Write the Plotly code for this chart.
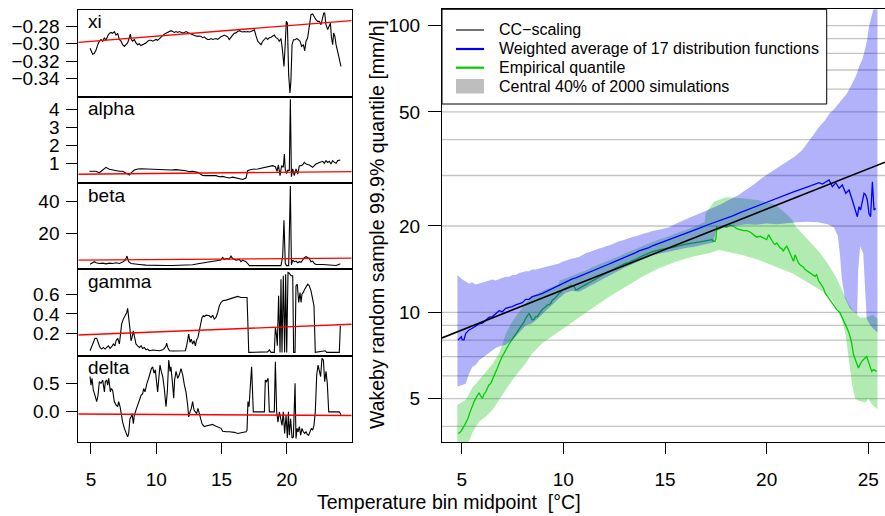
import plotly.graph_objects as go

FONT = "Liberation Sans, Arial, Helvetica, sans-serif"
W, H = 885, 516

# ---------------- left panels: Wakeby parameters vs temperature ----------------
xi_pts = [(4.93,-0.305),(5.00,-0.307),(5.13,-0.312),(5.26,-0.311),(5.39,-0.307),(5.52,-0.301),(5.64,-0.297),(5.77,-0.295),
    (5.90,-0.297),(6.03,-0.293),(6.15,-0.296),(6.28,-0.291),(6.41,-0.288),(6.54,-0.287),(6.66,-0.288),(6.79,-0.286),
    (6.92,-0.290),(7.05,-0.288),(7.17,-0.295),(7.30,-0.297),(7.43,-0.301),(7.56,-0.303),(7.69,-0.301),(7.81,-0.299),
    (7.94,-0.293),(8.02,-0.289),(8.09,-0.295),(8.20,-0.297),(8.32,-0.295),(8.45,-0.299),(8.58,-0.301),(8.70,-0.300),
    (8.83,-0.302),(8.96,-0.301),(9.09,-0.300),(9.22,-0.299),(9.35,-0.297),(9.47,-0.296),(9.60,-0.296),(9.73,-0.297),
    (9.86,-0.296),(9.98,-0.295),(10.11,-0.296),(10.24,-0.294),(10.37,-0.293),(10.50,-0.291),(10.62,-0.289),(10.75,-0.288),
    (10.88,-0.287),(11.01,-0.286),(11.14,-0.285),(11.26,-0.286),(11.39,-0.287),(11.52,-0.286),(11.65,-0.287),(11.77,-0.286),
    (11.90,-0.287),(12.03,-0.2875),(12.16,-0.287),(12.29,-0.286),(12.42,-0.287),(12.54,-0.288),(12.67,-0.289),(12.80,-0.290),
    (12.93,-0.2905),(13.05,-0.291),(13.18,-0.2915),(13.31,-0.291),(13.43,-0.2915),(13.56,-0.293),(13.69,-0.292),(13.82,-0.294),
    (13.94,-0.295),(14.07,-0.295),(14.20,-0.294),(14.33,-0.295),(14.45,-0.2945),(14.58,-0.294),(14.71,-0.295),(14.84,-0.293),
    (14.96,-0.292),(15.09,-0.291),(15.22,-0.290),(15.35,-0.291),(15.47,-0.292),(15.60,-0.295),(15.73,-0.292),(15.86,-0.290),
    (15.98,-0.288),(16.11,-0.2875),(16.24,-0.286),(16.37,-0.285),(16.50,-0.286),(16.63,-0.2865),(16.75,-0.286),(16.88,-0.2865),
    (17.01,-0.286),(17.14,-0.2865),(17.26,-0.286),(17.39,-0.285),(17.52,-0.284),(17.65,-0.291),(17.78,-0.297),(17.90,-0.299),
    (18.03,-0.301),(18.16,-0.297),(18.29,-0.295),(18.41,-0.293),(18.54,-0.295),(18.67,-0.293),(18.80,-0.2925),(18.92,-0.291),
    (19.05,-0.290),(19.18,-0.293),(19.31,-0.294),(19.43,-0.297),(19.56,-0.294),(19.66,-0.305),(19.79,-0.3258),(19.87,-0.305),
    (19.97,-0.2743),(20.05,-0.276),(20.15,-0.3353),(20.25,-0.3563),(20.32,-0.343),(20.41,-0.301),(20.52,-0.2953),(20.64,-0.2953),
    (20.77,-0.294),(20.90,-0.2953),(21.02,-0.297),(21.15,-0.303),(21.28,-0.301),(21.38,-0.308),(21.48,-0.297),(21.60,-0.2934),
    (21.73,-0.2781),(21.86,-0.2666),(21.99,-0.2659),(22.11,-0.270),(22.24,-0.2724),(22.37,-0.2743),(22.50,-0.2743),(22.63,-0.2781),
    (22.76,-0.2666),(22.84,-0.2647),(22.91,-0.2647),(23.01,-0.2781),(23.14,-0.2838),(23.27,-0.280),(23.35,-0.2762),(23.42,-0.2915),
    (23.52,-0.3010),(23.60,-0.2876),(23.69,-0.2915),(23.78,-0.3010),(23.91,-0.3124),(23.99,-0.3144),(24.07,-0.3201),(24.16,-0.3258)]

alpha_pts = [(4.88,0.58),(5.13,0.56),(5.39,0.58),(5.64,0.50),(5.90,0.65),(6.15,0.80),(6.41,0.69),(6.66,0.65),(6.92,0.61),
    (7.17,0.58),(7.43,0.58),(7.69,0.50),(7.81,0.43),(7.94,0.37),(8.07,0.50),(8.32,0.65),(8.58,0.71),(8.83,0.72),(9.22,0.71),
    (9.60,0.69),(9.98,0.65),(10.37,0.67),(10.75,0.65),(11.13,0.65),(11.52,0.67),(11.90,0.65),(12.28,0.61),(12.54,0.56),
    (12.79,0.58),(13.18,0.52),(13.43,0.43),(13.56,0.35),(13.82,0.34),(14.07,0.35),(14.33,0.32),(14.58,0.34),(14.84,0.28),
    (15.09,0.30),(15.35,0.25),(15.60,0.21),(15.86,0.26),(16.11,0.21),(16.37,0.17),(16.63,0.13),(16.88,0.21),(17.01,0.61),
    (17.14,0.65),(17.39,0.69),(17.78,0.71),(18.16,0.76),(18.54,0.80),(18.92,0.89),(19.13,0.83),(19.26,0.58),(19.36,0.93),
    (19.49,0.34),(19.61,0.89),(19.74,0.80),(19.82,1.53),(19.89,0.67),(19.99,0.45),(20.07,0.63),(20.20,0.63),(20.28,4.55),
    (20.36,0.28),(20.46,0.71),(20.58,0.34),(20.71,0.71),(20.84,0.43),(20.97,0.89),(21.10,0.89),(21.22,0.94),(21.35,1.07),
    (21.48,0.98),(21.73,0.93),(21.99,0.80),(22.12,0.89),(22.24,0.98),(22.50,1.07),(22.76,1.13),(22.88,1.02),(23.01,1.17),
    (23.14,1.07),(23.27,1.13),(23.39,0.98),(23.52,1.17),(23.65,1.07),(23.78,1.02),(23.91,1.17),(24.03,1.20),(24.11,1.20)]

beta_pts = [(4.93,1.0),(5.13,1.9),(5.26,2.5),(5.39,1.9),(5.64,1.4),(5.90,1.65),(6.15,1.2),(6.41,1.65),(6.66,1.4),(6.92,1.9),
    (7.17,1.4),(7.43,2.3),(7.63,3.5),(7.76,6.0),(7.89,2.5),(8.07,1.4),(8.32,1.0),(8.71,0.8),(9.22,0.4),(9.73,0.2),(10.24,0.2),
    (10.75,0.2),(11.26,0.2),(11.77,0.2),(12.28,0.4),(12.79,0.6),(13.31,1.4),(13.69,1.9),(14.07,2.3),(14.58,2.9),(14.96,3.5),
    (15.09,5.2),(15.22,3.9),(15.35,4.5),(15.60,4.1),(15.73,6.0),(15.86,4.5),(16.11,3.5),(16.37,3.9),(16.50,2.5),(16.63,3.5),
    (16.75,2.9),(16.88,2.5),(17.01,1.4),(17.14,0.1),(18.16,0.1),(19.18,0.1),(19.56,0.1),(19.69,5.6),(19.79,28.2),(19.89,1.4),
    (19.99,0.1),(20.15,0.1),(20.28,49.3),(20.36,0.6),(20.46,3.5),(20.58,2.5),(20.71,2.9),(20.84,1.9),(20.97,2.5),(21.10,2.1),
    (21.22,3.5),(21.35,5.0),(21.48,5.6),(21.61,5.0),(21.73,4.5),(21.86,2.5),(21.99,2.9),(22.12,1.4),(22.24,0.8),(22.76,0.8),
    (23.27,0.4),(23.78,0.2),(24.03,1.0),(24.11,1.2)]

gamma_pts = [(4.93,0.022),(5.08,0.073),(5.18,0.125),(5.31,0.149),(5.44,0.149),(5.57,0.091),(5.69,0.056),(5.82,0.039),
    (5.95,0.056),(6.08,0.039),(6.20,0.056),(6.33,0.073),(6.46,0.046),(6.59,0.063),(6.72,0.091),(6.84,0.073),(6.92,0.125),
    (7.05,0.149),(7.18,0.091),(7.25,0.176),(7.35,0.296),(7.48,0.347),(7.61,0.381),(7.74,0.415),(7.81,0.457),(7.89,0.381),
    (7.99,0.244),(8.07,0.125),(8.15,0.159),(8.25,0.227),(8.35,0.142),(8.45,0.091),(8.58,0.073),(8.71,0.056),(8.84,0.073),
    (8.96,0.046),(9.09,0.056),(9.22,0.032),(9.35,0.039),(9.47,0.022),(9.73,0.029),(9.98,0.022),(10.24,0.022),(10.50,0.032),
    (10.62,0.046),(10.75,0.073),(10.80,0.101),(10.88,0.056),(11.01,0.022),(11.26,0.019),(11.77,0.019),(12.23,0.022),
    (12.33,0.073),(12.41,0.159),(12.49,0.193),(12.59,0.108),(12.69,0.142),(12.79,0.091),(12.90,0.125),(13.00,0.073),
    (13.10,0.135),(13.20,0.159),(13.31,0.227),(13.41,0.296),(13.51,0.364),(13.61,0.381),(13.71,0.374),(13.82,0.388),
    (13.94,0.381),(14.07,0.381),(14.20,0.364),(14.33,0.388),(14.45,0.347),(14.58,0.364),(14.71,0.415),(14.84,0.484),
    (14.97,0.518),(15.09,0.535),(15.35,0.542),(15.60,0.552),(15.86,0.559),(16.11,0.569),(16.24,0.580),(16.50,0.569),
    (16.75,0.569),(16.96,0.569),(17.03,0.279),(17.09,0.005),(18.54,0.010),(18.67,0.030),(18.80,0.005),(19.05,0.005),
    (19.13,0.262),(19.21,0.193),(19.28,0.073),(19.38,0.586),(19.49,0.005),(19.56,0.757),(19.64,0.005),(19.74,0.792),
    (19.84,0.005),(19.92,0.809),(20.00,0.005),(20.10,0.826),(20.20,0.819),(20.33,0.792),(20.46,0.792),(20.53,0.005),
    (20.64,0.005),(20.71,0.689),(20.81,0.706),(20.92,0.518),(21.02,0.621),(21.10,0.518),(21.17,0.604),(21.27,0.621),
    (21.38,0.655),(21.48,0.672),(21.61,0.706),(21.73,0.689),(21.86,0.638),(21.99,0.552),(22.09,0.484),(22.19,0.005),
    (22.96,0.022),(23.06,0.005),(24.03,0.005),(24.11,0.279)]

delta_pts = [(4.93,0.62),(5.00,0.47),(5.08,0.59),(5.18,0.38),(5.31,0.29),(5.44,0.18),(5.54,0.29),(5.64,0.53),(5.77,0.50),
    (5.90,0.56),(6.03,0.35),(6.10,0.53),(6.20,0.56),(6.28,0.47),(6.36,0.59),(6.49,0.35),(6.56,0.41),(6.66,0.38),(6.79,0.18),
    (6.92,0.12),(7.05,0.09),(7.12,0.18),(7.23,0.09),(7.30,-0.03),(7.38,-0.09),(7.43,-0.18),(7.56,-0.29),(7.69,-0.38),
    (7.81,-0.44),(7.89,-0.38),(7.99,-0.12),(8.07,-0.09),(8.15,-0.03),(8.25,-0.21),(8.32,-0.06),(8.45,0.03),(8.58,0.12),
    (8.71,0.24),(8.84,0.29),(8.96,0.32),(9.04,0.41),(9.14,0.35),(9.22,0.47),(9.29,0.50),(9.42,0.59),(9.52,0.68),(9.63,0.76),
    (9.73,0.79),(9.83,0.68),(9.93,0.74),(10.04,0.53),(10.11,0.35),(10.19,0.56),(10.29,0.82),(10.39,0.71),(10.50,0.62),
    (10.62,0.41),(10.75,0.09),(10.85,0.35),(10.96,0.91),(11.06,0.71),(11.13,0.79),(11.26,0.47),(11.34,0.24),(11.41,0.56),
    (11.52,0.71),(11.65,0.59),(11.77,0.65),(11.90,0.76),(12.03,0.65),(12.16,0.47),(12.28,0.35),(12.41,0.12),(12.49,-0.09),
    (12.59,0.0),(12.69,0.06),(12.79,0.18),(12.90,0.03),(13.00,0.0),(13.10,-0.03),(13.20,0.06),(13.31,-0.03),(13.41,-0.12),
    (13.51,-0.21),(13.61,-0.24),(13.71,-0.26),(13.82,-0.25),(13.94,-0.24),(14.07,-0.24),(14.20,-0.22),(14.33,-0.22),
    (14.45,-0.24),(14.58,-0.25),(14.71,-0.26),(14.84,-0.28),(14.97,-0.29),(15.09,-0.34),(15.22,-0.35),(15.35,-0.35),
    (15.60,-0.35),(15.86,-0.35),(15.99,-0.36),(16.24,-0.38),(16.50,-0.37),(16.63,-0.36),(16.88,-0.35),(16.96,-0.32),
    (17.03,0.18),(17.11,0.09),(17.24,0.47),(17.31,0.79),(17.44,0.0),(18.29,0.0),(18.36,0.56),(18.46,0.53),(18.57,0.59),
    (18.67,0.0),(19.05,0.0),(19.13,0.88),(19.23,0.0),(19.33,-0.18),(19.44,0.0),(19.54,-0.12),(19.64,-0.24),(19.74,0.0),
    (19.84,-0.38),(19.95,-0.06),(20.05,-0.46),(20.13,0.0),(20.20,-0.41),(20.30,-0.12),(20.41,-0.46),(20.51,-0.44),
    (20.59,0.12),(20.64,0.50),(20.71,-0.47),(20.79,-0.29),(20.87,-0.35),(20.97,-0.26),(21.07,-0.41),(21.17,-0.29),
    (21.27,-0.35),(21.38,-0.38),(21.48,-0.35),(21.58,-0.40),(21.68,-0.41),(21.79,-0.35),(21.89,-0.29),(21.99,-0.32),
    (22.09,-0.24),(22.19,0.0),(22.30,0.65),(22.40,0.82),(22.50,0.74),(22.60,0.62),(22.70,0.94),(22.81,0.91),(22.91,0.53),
    (23.01,0.71),(23.11,0.50),(23.22,0.0),(24.03,0.0),(24.11,-0.03),(24.16,-0.05)]

# linear trends (red) at the panel edges
xi_fit = [(4.03,-0.2983),(24.98,-0.2735)]
alpha_fit = [(4.03,0.42),(24.98,0.56)]
beta_fit = [(4.03,3.5),(24.98,4.7)]
gamma_fit = [(4.03,0.184),(24.98,0.294)]
delta_fit = [(4.03,-0.038),(24.98,-0.064)]

panel_names = ["xi", "alpha", "beta", "gamma", "delta"]
panel_ranges = [(-0.3603,-0.2613), (-0.065,4.706), (-2.0,51.2), (-0.027,0.862), (-0.53,0.99)]
panel_ticks = [[-0.34,-0.32,-0.30,-0.28], [1,2,3,4], [20,40], [0.2,0.4,0.6], [0.0,0.5]]
panel_ticktext = [["\u22120.34","\u22120.32","\u22120.30","\u22120.28"], ["1","2","3","4"], ["20","40"],
                  ["0.2","0.4","0.6"], ["0.0","0.5"]]
left_xticks = [5, 10, 15, 20]

# ---------------- right panel: 99.9% quantile ----------------
cc_pts = [(4.03,8.14),(25.82,33.4)]

wavg_pts = [(4.82,8.01),(4.90,8.12),(4.98,8.22),(5.03,8.01),(5.11,8.01),(5.20,8.45),(5.36,8.68),(5.52,8.80),(5.69,8.96),
    (5.85,9.11),(6.02,9.16),(6.18,9.40),(6.34,9.61),(6.51,9.66),(6.67,9.87),(6.84,10.13),(7.00,10.05),(7.16,10.33),
    (7.33,10.41),(7.49,10.46),(7.66,10.61),(7.82,10.69),(7.98,10.81),(8.15,11.10),(8.31,11.10),(8.47,11.34),(8.64,11.40),
    (8.80,11.52),(8.97,11.65),(9.13,11.80),(9.29,11.90),(9.46,12.09),(9.62,12.29),(9.79,12.46),(9.95,12.62),(10.11,12.76),
    (10.28,12.90),(10.44,13.07),(10.61,13.18),(10.77,13.33),(10.93,13.46),(11.10,13.61),(11.26,13.83),(11.43,13.98),
    (11.59,14.13),(11.75,14.28),(11.92,14.43),(12.08,14.59),(12.25,14.74),(12.41,14.90),(12.57,15.06),(12.74,15.31),
    (12.90,15.47),(13.07,15.64),(13.23,15.80),(13.39,15.97),(13.56,16.15),(13.72,16.38),(13.89,16.51),(14.05,16.69),
    (14.21,16.82),(14.38,17.06),(14.76,17.45),(15.09,17.78),(15.41,18.17),(15.74,18.56),(16.07,18.86),(16.40,19.27),
    (16.73,19.69),(17.05,20.12),(17.38,20.50),(17.71,20.88),(18.04,21.34),(18.36,21.74),(18.69,22.26),(19.02,22.74),
    (19.35,23.23),(19.68,23.74),(20.00,24.25),(20.33,24.78),(20.66,25.18),(20.99,25.73),(21.32,26.28),(21.64,26.78),
    (21.97,27.29),(22.30,27.73),(22.58,28.3),(22.74,28.0),(22.90,28.55),(23.07,28.93),(23.23,27.43),(23.40,28.3),
    (23.56,27.07),(23.72,27.8),(23.89,26.0),(24.05,26.71),(24.21,24.65),(24.38,22.14),(24.46,21.55),(24.54,23.35),
    (24.62,22.75),(24.79,26.0),(24.87,25.7),(24.95,24.65),(25.03,22.14),(25.11,21.55),(25.20,28.55),(25.28,22.75),(25.36,23.0)]

emp_pts = [(4.82,3.78),(4.90,3.80),(4.98,3.86),(5.07,3.94),(5.15,4.05),(5.23,4.16),(5.31,4.27),(5.39,4.45),(5.48,4.63),
    (5.52,4.75),(5.61,4.88),(5.69,5.01),(5.77,5.15),(5.85,5.24),(5.93,5.11),(6.02,5.01),(6.10,5.19),(6.18,5.28),(6.26,5.43),
    (6.34,5.58),(6.43,5.65),(6.51,5.81),(6.59,5.97),(6.67,6.16),(6.75,6.38),(6.84,6.63),(6.92,6.85),(7.00,7.04),(7.08,7.19),
    (7.16,7.39),(7.25,7.59),(7.33,7.75),(7.41,7.90),(7.49,8.05),(7.57,8.22),(7.66,8.40),(7.74,8.56),(7.82,8.72),(7.90,8.91),
    (7.98,9.11),(8.07,9.28),(8.15,9.53),(8.23,9.71),(8.31,9.92),(8.39,9.66),(8.47,9.40),(8.56,9.45),(8.64,9.66),(8.72,9.66),
    (8.80,9.92),(8.88,10.05),(8.97,10.24),(9.05,10.33),(9.13,10.46),(9.21,10.61),(9.29,10.61),(9.38,10.75),(9.46,11.04),
    (9.54,11.13),(9.62,11.25),(9.70,11.43),(9.79,11.65),(9.87,11.74),(9.95,11.96),(10.03,12.06),(10.11,12.12),(10.20,12.18),
    (10.28,12.29),(10.36,12.39),(10.44,12.29),(10.52,12.35),(10.61,11.96),(10.69,12.00),(10.77,12.12),(10.93,12.29),
    (11.10,12.45),(11.26,12.69),(11.43,12.90),(11.59,13.03),(11.75,13.24),(11.92,13.46),(12.08,13.67),(12.25,13.86),
    (12.41,14.05),(12.57,14.24),(12.74,14.43),(12.90,14.59),(13.07,14.83),(13.23,14.90),(13.39,15.15),(13.56,15.31),
    (13.72,15.56),(13.89,15.73),(14.05,15.90),(14.21,16.07),(14.38,16.29),(14.76,16.54),(15.09,16.68),(15.41,16.86),
    (15.74,17.13),(16.07,17.32),(16.40,17.45),(16.73,17.59),(17.05,17.78),(17.30,17.92),(17.38,17.69),(17.46,17.69),
    (17.51,18.17),(17.54,19.96),(17.59,19.43),(17.71,19.69),(17.87,19.96),(18.04,19.80),(18.20,20.12),(18.36,19.96),
    (18.53,19.59),(18.69,19.43),(18.86,19.27),(19.02,19.27),(19.18,19.06),(19.35,18.66),(19.51,18.27),(19.68,18.41),
    (19.84,18.17),(20.00,17.92),(20.09,18.66),(20.17,18.27),(20.25,17.69),(20.33,17.45),(20.41,17.22),(20.50,17.45),
    (20.58,17.13),(20.66,16.77),(20.74,16.68),(20.82,16.32),(20.91,16.77),(20.99,17.00),(21.07,16.54),(21.15,16.10),
    (21.23,15.47),(21.32,15.06),(21.40,15.88),(21.48,15.39),(21.56,14.86),(21.64,14.65),(21.81,14.36),(21.89,14.09),
    (21.97,13.98),(22.13,13.71),(22.30,13.53),(22.38,13.35),(22.46,13.53),(22.55,12.89),(22.63,12.66),(22.79,12.16),
    (22.87,11.68),(22.95,11.46),(23.12,10.98),(23.28,10.64),(23.45,10.22),(23.61,9.95),(23.69,9.68),(23.77,9.30),
    (23.86,9.06),(23.94,8.82),(24.02,8.58),(24.10,8.25),(24.18,7.82),(24.27,7.12),(24.35,6.83),(24.43,6.57),(24.51,6.39),
    (24.59,6.57),(24.68,6.74),(24.84,6.93),(24.92,7.02),(25.00,6.74),(25.09,6.39),(25.17,6.22),(25.25,6.31),(25.33,6.26),
    (25.41,6.22)]

# central 40% of simulations: weighted-average band (blue)
wavg_band_hi = [(4.79,13.5),(4.87,13.3),(5.03,13.0),(5.20,12.8),(5.36,12.6),(5.52,12.7),(5.69,12.5),(5.85,12.6),(6.02,12.7),
    (6.18,12.8),(6.34,12.9),(6.51,13.0),(6.67,12.9),(6.84,13.1),(7.00,13.2),(7.16,13.3),(7.33,13.3),(7.49,13.5),(7.66,13.5),
    (7.82,13.7),(7.98,13.8),(8.15,13.9),(8.31,13.9),(8.47,14.1),(8.64,14.1),(8.80,14.2),(8.97,14.3),(9.13,14.4),(9.29,14.5),
    (9.46,14.6),(9.62,14.7),(9.79,14.8),(9.95,15.0),(10.11,15.15),(10.28,15.3),(10.44,15.4),(10.61,15.5),(10.77,15.6),
    (10.93,15.8),(11.10,16.1),(11.26,16.2),(11.43,16.4),(11.59,16.5),(11.75,16.7),(11.92,16.8),(12.08,17.0),(12.25,17.1),
    (12.41,17.3),(12.57,17.5),(12.74,17.7),(12.90,17.8),(13.07,18.0),(13.23,18.1),(13.39,18.3),(13.56,18.4),(13.72,18.6),
    (13.89,18.7),(14.05,18.9),(14.21,19.0),(14.38,19.2),(14.70,19.4),(15.20,19.8),(15.69,20.6),(16.10,21.2),(16.50,21.8),
    (16.90,22.4),(17.33,23.0),(17.75,23.8),(18.20,24.8),(18.60,25.6),(18.97,26.7),(19.40,28.0),(19.80,29.5),(20.20,30.8),
    (20.61,32.2),(21.00,33.6),(21.40,35.0),(21.75,36.8),(22.00,39.0),(22.30,41.5),(22.60,44.5),(22.90,47.0),(23.10,49.5),
    (23.30,51.0),(23.50,53.0),(23.72,55.0),(23.95,58.0),(24.21,62.9),(24.40,67.0),(24.54,71.9),(24.70,76.0),(24.87,84.4),
    (24.95,90.0),(25.03,99.0),(25.12,105.0),(25.20,112.0),(25.30,118.0),(25.45,120.0)]
wavg_band_lo = [(4.79,5.51),(4.87,5.51),(5.03,5.58),(5.20,5.65),(5.36,6.1),(5.52,6.45),(5.69,6.55),(5.85,6.8),(6.02,6.95),
    (6.18,7.1),(6.34,7.2),(6.51,7.35),(6.67,7.5),(6.84,7.6),(7.16,7.7),(7.49,8.0),(7.82,8.5),(8.15,9.0),(8.47,9.15),
    (8.80,9.6),(9.13,10.1),(9.46,10.6),(9.79,11.2),(10.11,11.7),(10.44,11.9),(10.77,11.8),(11.10,12.1),(11.43,12.5),
    (11.75,12.8),(12.08,13.2),(12.41,13.6),(12.74,14.0),(13.07,14.4),(13.39,14.7),(13.72,15.1),(14.05,15.4),(14.38,15.8),
    (14.76,16.0),(15.09,16.2),(15.41,16.4),(15.74,16.6),(16.07,16.8),(16.40,16.9),(16.73,17.1),(17.05,17.3),(17.38,17.5),
    (17.50,19.3),(18.00,19.8),(18.50,20.1),(19.00,20.3),(19.50,20.2),(20.00,20.4),(20.50,20.3),(21.00,20.5),(21.50,20.6),
    (22.00,20.7),(22.50,20.6),(23.00,20.3),(23.30,19.8),(23.50,18.5),(23.60,16.0),(23.70,13.0),(23.85,11.2),(24.10,10.3),
    (24.30,10.0),(24.45,9.8),(24.50,14.0),(24.60,17.0),(24.75,16.0),(24.85,12.0),(24.92,9.5),(25.10,9.0),(25.30,8.7),
    (25.45,8.5)]

# central 40% of simulations: empirical-quantile band (green)
emp_band_hi = [(4.78,4.75),(5.00,4.85),(5.20,4.95),(5.36,5.2),(5.52,5.45),(5.85,5.8),(6.18,6.2),(6.51,6.6),(6.84,7.2),
    (7.00,7.7),(7.16,8.4),(7.49,9.3),(7.82,10.0),(8.15,10.8),(8.47,11.3),(8.80,11.7),(9.13,12.0),(9.46,12.3),(9.75,12.5),
    (9.82,12.9),(10.11,13.1),(10.44,13.4),(10.77,13.7),(11.10,14.0),(11.43,14.4),(11.75,14.7),(12.08,15.0),(12.41,15.3),
    (12.74,15.7),(13.07,16.1),(13.39,16.4),(13.72,16.8),(14.05,17.2),(14.38,17.6),(14.76,18.0),(15.09,18.3),(15.41,18.7),
    (15.74,19.1),(16.07,19.4),(16.40,19.8),(16.73,20.2),(16.95,20.6),(17.0,22.1),(17.41,24.3),(17.99,25.2),(18.80,25.0),
    (19.62,24.6),(20.44,23.7),(20.94,22.1),(21.26,21.0),(21.43,19.9),(21.8,18.6),(22.2,17.4),(22.6,16.2),(23.0,14.8),
    (23.4,13.3),(23.7,12.0),(24.0,10.8),(24.3,10.0),(24.6,9.6),(24.9,9.6),(25.2,9.8),(25.45,9.5)]
emp_band_lo = [(4.78,3.4),(5.36,3.55),(5.52,3.79),(5.85,4.15),(6.18,4.32),(6.51,4.56),(6.83,4.94),(7.16,5.36),(7.49,5.81),
    (7.82,6.21),(8.15,6.64),(8.47,7.19),(8.96,7.80),(9.79,8.56),(10.61,9.40),(11.42,10.33),(12.25,11.33),(13.07,12.28),
    (13.88,13.31),(14.70,14.24),(15.53,15.02),(16.34,15.63),(17.16,16.06),(17.65,16.49),(17.99,16.27),(18.80,15.85),
    (19.62,15.22),(20.44,14.43),(21.26,13.68),(22.08,12.62),(22.90,11.65),(23.23,11.04),(23.72,9.4),(23.90,8.2),(24.05,6.9),
    (24.20,5.6),(24.35,5.0),(24.54,4.9),(24.87,4.85),(25.00,5.0),(25.20,4.75),(25.36,4.65),(25.45,4.6)]

grid_vals = [4, 5, 6, 7, 8, 9, 10, 20, 30, 40, 50, 60, 70, 80, 90, 100]
right_yticks = [5, 10, 20, 50, 100]
right_xticks = [5, 10, 15, 20, 25]

legend_labels = ["CC\u2212scaling", "Weighted average of 17 distribution functions",
                 "Empirical quantile", "Central 40% of 2000 simulations"]

# ---------------- figure ----------------
def xs(pts): return [p[0] for p in pts]
def ys(pts): return [p[1] for p in pts]
def px2x(p): return p / W
def px2y(p): return 1 - p / H

fig = go.Figure()
LEFT_XR = [4.03, 24.98]
left_dom = [px2x(78.3), px2x(351.7)]
panel_px = [(10, 96.5), (96.5, 183), (183, 269), (269, 355.5), (355.5, 442)]
series = [xi_pts, alpha_pts, beta_pts, gamma_pts, delta_pts]
fits = [xi_fit, alpha_fit, beta_fit, gamma_fit, delta_fit]
annotations = []
layout = dict(width=W, height=H, margin=dict(l=0, r=0, t=0, b=0), paper_bgcolor="white",
              plot_bgcolor="white", showlegend=False, font=dict(family=FONT, size=19, color="black"))

for i in range(5):
    k = "" if i == 0 else str(i + 1)
    xa, ya = "x" + k, "y" + k
    fig.add_trace(go.Scatter(x=xs(series[i]), y=ys(series[i]), mode="lines",
                             line=dict(color="black", width=1.1), xaxis=xa, yaxis=ya, hoverinfo="skip"))
    fig.add_trace(go.Scatter(x=xs(fits[i]), y=ys(fits[i]), mode="lines",
                             line=dict(color="#ff0000", width=1.4), xaxis=xa, yaxis=ya, hoverinfo="skip"))
    top, bot = panel_px[i]
    last = (i == 4)
    layout["xaxis" + k] = dict(domain=left_dom, range=LEFT_XR, anchor=ya, showline=True, mirror=True,
                              linecolor="black", linewidth=1, showgrid=False, zeroline=False,
                              ticks="outside" if last else "", ticklen=11, tickwidth=1, tickcolor="black",
                              tickvals=left_xticks, showticklabels=last, automargin=False,
                              tickfont=dict(family=FONT, size=19), ticklabelstandoff=9)
    layout["yaxis" + k] = dict(domain=[px2y(bot), px2y(top)], range=list(panel_ranges[i]), anchor=xa,
                              showline=True, mirror=True, linecolor="black", linewidth=1, showgrid=False,
                              zeroline=False, ticks="outside", ticklen=11, tickwidth=1, tickcolor="black",
                              tickvals=panel_ticks[i], ticktext=panel_ticktext[i], automargin=False,
                              tickfont=dict(family=FONT, size=19), ticklabelstandoff=3)
    annotations.append(dict(text=panel_names[i], x=px2x(86), y=px2y(top + 12), xref="paper", yref="paper",
                            xanchor="left", yanchor="middle", showarrow=False,
                            font=dict(family=FONT, size=19, color="black")))

# right panel
RX = [4.03, 25.82]
gx, gy = [], []
for v in grid_vals:
    gx += [RX[0], RX[1], None]
    gy += [v, v, None]
fig.add_trace(go.Scatter(x=gx, y=gy, mode="lines", line=dict(color="#c4c4c4", width=1.3),
                         xaxis="x6", yaxis="y6", hoverinfo="skip"))

def band(hi, lo):
    return xs(hi) + xs(lo)[::-1], ys(hi) + ys(lo)[::-1]

bx, by = band(emp_band_hi, emp_band_lo)
fig.add_trace(go.Scatter(x=bx, y=by, mode="lines", fill="toself", fillcolor="rgba(0,190,0,0.30)",
                         line=dict(width=0), xaxis="x6", yaxis="y6", hoverinfo="skip"))
fig.add_trace(go.Scatter(x=xs(emp_pts), y=ys(emp_pts), mode="lines", line=dict(color="#00cd00", width=1.3),
                         xaxis="x6", yaxis="y6", hoverinfo="skip"))
bx, by = band(wavg_band_hi, wavg_band_lo)
fig.add_trace(go.Scatter(x=bx, y=by, mode="lines", fill="toself", fillcolor="rgba(0,0,240,0.30)",
                         line=dict(width=0), xaxis="x6", yaxis="y6", hoverinfo="skip"))
fig.add_trace(go.Scatter(x=xs(wavg_pts), y=ys(wavg_pts), mode="lines", line=dict(color="#0000ff", width=1.3),
                         xaxis="x6", yaxis="y6", hoverinfo="skip"))
fig.add_trace(go.Scatter(x=xs(cc_pts), y=ys(cc_pts), mode="lines", line=dict(color="black", width=1.6),
                         xaxis="x6", yaxis="y6", hoverinfo="skip"))

layout["xaxis6"] = dict(domain=[px2x(442), 1.0], range=RX, anchor="y6", showline=True, mirror=True,
                        linecolor="black", linewidth=1, showgrid=False, zeroline=False, ticks="outside",
                        ticklen=11, tickwidth=1, tickcolor="black", tickvals=right_xticks, automargin=False,
                        tickfont=dict(family=FONT, size=19), ticklabelstandoff=9)
layout["yaxis6"] = dict(domain=[px2y(442), px2y(9.3)], type="log", range=[0.5476, 2.0568], anchor="x6",
                        showline=True, mirror=False, linecolor="black", linewidth=1, showgrid=False,
                        zeroline=False, ticks="outside", ticklen=13, tickwidth=1, tickcolor="black",
                        tickvals=right_yticks, ticktext=[str(v) for v in right_yticks], automargin=False,
                        tickfont=dict(family=FONT, size=19), ticklabelstandoff=4)

# axis titles
annotations.append(dict(text="Temperature bin midpoint  [\u00b0C]", x=px2x(449), y=px2y(502), xref="paper",
                        yref="paper", xanchor="center", yanchor="middle", showarrow=False,
                        font=dict(family=FONT, size=19.5, color="black")))
annotations.append(dict(text="Wakeby random sample 99.9% quantile [mm/h]", x=px2x(377), y=px2y(225),
                        xref="paper", yref="paper", xanchor="center", yanchor="middle", textangle=-90,
                        showarrow=False, font=dict(family=FONT, size=19.5, color="black")))

# legend (drawn manually)
shapes = [dict(type="rect", xref="paper", yref="paper", x0=px2x(442), x1=px2x(826.7), y0=px2y(104),
               y1=px2y(9.3), fillcolor="white", line=dict(color="black", width=1), layer="above")]
rows = [30, 49, 67.7, 86.7]
sample_styles = [("black", 1.1), ("#0000ff", 2.2), ("#00cd00", 2.2)]
for r, (c, wdt) in zip(rows[:3], sample_styles):
    shapes.append(dict(type="line", xref="paper", yref="paper", x0=px2x(456), x1=px2x(484), y0=px2y(r),
                       y1=px2y(r), line=dict(color=c, width=wdt), layer="above"))
shapes.append(dict(type="rect", xref="paper", yref="paper", x0=px2x(456), x1=px2x(484), y0=px2y(93.5),
                   y1=px2y(79), fillcolor="#bebebe", line=dict(width=0), layer="above"))
for r, lab in zip(rows, legend_labels):
    annotations.append(dict(text=lab, x=px2x(497), y=px2y(r), xref="paper", yref="paper", xanchor="left",
                            yanchor="middle", showarrow=False, font=dict(family=FONT, size=16, color="black")))

layout["annotations"] = annotations
layout["shapes"] = shapes
fig.update_layout(**layout)
fig.write_html("out.html")
